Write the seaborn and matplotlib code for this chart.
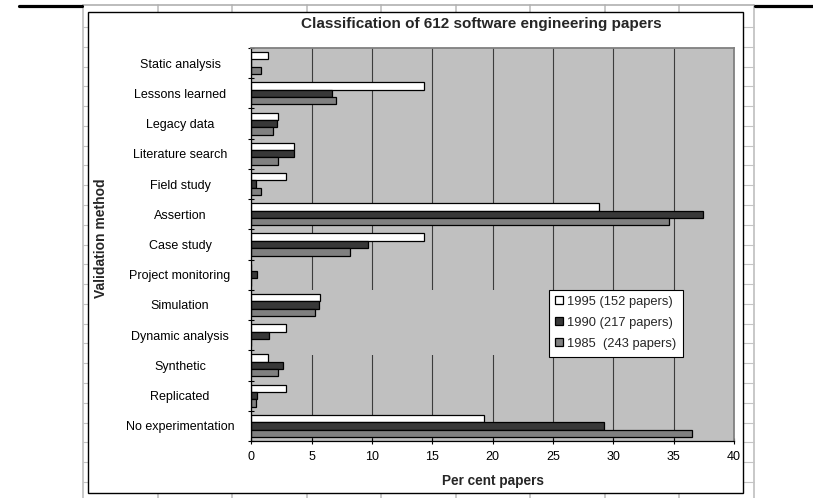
import numpy as np
import pandas as pd
import matplotlib
matplotlib.use("Agg")
import matplotlib.pyplot as plt
from matplotlib.lines import Line2D
from matplotlib.patches import Rectangle
import seaborn as sns

categories = ["Static analysis", "Lessons learned", "Legacy data", "Literature search",
              "Field study", "Assertion", "Case study", "Project monitoring",
              "Simulation", "Dynamic analysis", "Synthetic", "Replicated",
              "No experimentation"]
years = ["1995 (152 papers)", "1990 (217 papers)", "1985  (243 papers)"]
pct_1995 = [1.4, 14.3, 2.2, 3.5, 2.9, 28.8, 14.3, 0.0, 5.7, 2.9, 1.4, 2.9, 19.3]
pct_1990 = [0.0, 6.7, 2.1, 3.5, 0.4, 37.4, 9.7, 0.45, 5.6, 1.5, 2.6, 0.45, 29.2]
pct_1985 = [0.8, 7.0, 1.8, 2.2, 0.8, 34.6, 8.2, 0.0, 5.3, 0.0, 2.2, 0.35, 36.5]
colors = ["#ffffff", "#383838", "#808080"]

df = pd.DataFrame({
    "method": categories * 3,
    "pct": pct_1995 + pct_1990 + pct_1985,
    "year": [years[0]] * 13 + [years[1]] * 13 + [years[2]] * 13,
})

sns.set_theme(style="white")
plt.rcParams["font.family"] = ["Liberation Sans", "DejaVu Sans"]

W, H = 813, 498
fig = plt.figure(figsize=(W / 100, H / 100), dpi=100)
fig.patch.set_facecolor("white")

# spreadsheet grid behind the chart object
for x in np.linspace(83, 754, 10):
    fig.add_artist(Line2D([x / W, x / W], [0, 1 - 5 / H], color="#c4c4c4", lw=1.3, zorder=-3))
for y in np.arange(27, 498, 19.78):
    fig.add_artist(Line2D([83 / W, 754 / W], [1 - y / H, 1 - y / H], color="#c4c4c4", lw=0.8, zorder=-3))
fig.add_artist(Line2D([83 / W, 754 / W], [1 - 5 / H, 1 - 5 / H], color="#b0b0b0", lw=1.2, zorder=-3))
fig.add_artist(Line2D([19 / W, 82 / W], [1 - 6 / H, 1 - 6 / H], color="black", lw=2.3, zorder=-3))
fig.add_artist(Line2D([755 / W, 1], [1 - 6 / H, 1 - 6 / H], color="black", lw=2.3, zorder=-3))
fig.add_artist(Rectangle((88 / W, 1 - 493 / H), 655 / W, 481 / H, facecolor="white",
                         edgecolor="black", lw=1.0, zorder=-2))

ax = fig.add_axes([251.3 / W, 1 - 441 / H, (734 - 251.3) / W, (441 - 48) / H])
ax.set_facecolor("#c0c0c0")

sns.barplot(data=df, x="pct", y="method", hue="year", hue_order=years, order=categories,
            palette=colors, orient="h", width=0.73, saturation=1, errorbar=None,
            edgecolor="black", linewidth=0.9, ax=ax)

ax.set_xlim(0, 40)
ax.set_ylim(12.5, -0.5)
ax.set_xticks(np.arange(0, 41, 5))
ax.set_axisbelow(True)
ax.grid(axis="x", color="#3c3c3c", lw=0.8)
ax.grid(axis="y", visible=False)
# gap in the gridlines, left over in the original screenshot
ax.add_patch(Rectangle((0.3, 7.5), 23.3, 2.15, facecolor="#c0c0c0", edgecolor="none", zorder=0.7))

ax.set_yticks(np.arange(-0.5, 13, 1), minor=True)
ax.tick_params(axis="y", which="major", length=0, pad=51.3, labelsize=9, colors="black")
ax.tick_params(axis="y", which="minor", direction="inout", length=5, width=0.8, color="black", left=True)
for lab in ax.get_yticklabels():
    lab.set_ha("center")
ax.tick_params(axis="x", direction="inout", length=5, width=0.8, pad=5, labelsize=9,
               colors="black", bottom=True)

for s in ["left", "bottom"]:
    ax.spines[s].set_color("black")
    ax.spines[s].set_linewidth(0.9)
for s in ["top", "right"]:
    ax.spines[s].set_color("#808080")
    ax.spines[s].set_linewidth(1.3)

ax.set_xlabel("Per cent papers", fontsize=9.8, fontweight="bold")
ax.xaxis.set_label_coords(0.5, -(481 - 441) / 393)
ax.xaxis.label.set_va("center")
ax.set_ylabel("Validation method", fontsize=10, fontweight="bold")
ax.yaxis.set_label_coords((101 - 251.3) / 482.7, (441 - 238) / 393)
ax.yaxis.label.set_va("center")

fig.text(481 / W, 1 - 24 / H, "Classification of 612 software engineering papers",
         ha="center", va="center", fontsize=11, fontweight="bold")

sns.move_legend(ax, loc="upper left", bbox_to_anchor=((549 - 251.3) / 482.7, (441 - 289.5) / 393),
                borderaxespad=0, title=None, fontsize=9.3, frameon=True, fancybox=False,
                framealpha=1, edgecolor="black", handlelength=0.58, handleheight=0.58,
                handletextpad=0.3, labelspacing=0.7, borderpad=0.5)
ax.get_legend().get_frame().set_linewidth(0.8)

fig.savefig("out.png", dpi=100)
